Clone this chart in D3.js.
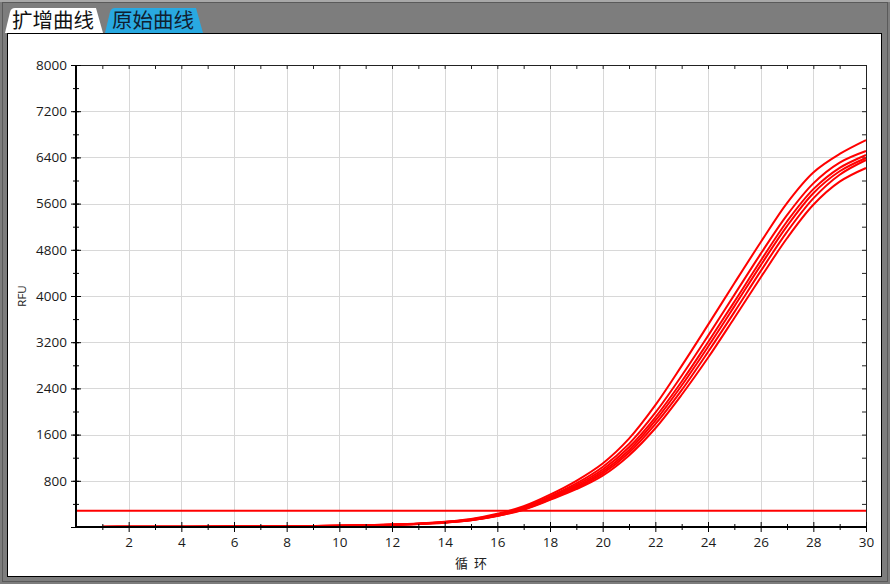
<!DOCTYPE html>
<html lang="zh">
<head>
<meta charset="UTF-8">
<title>扩增曲线</title>
<script src="https://cdn.jsdelivr.net/npm/d3@7/dist/d3.min.js"></script>
<style>
  html, body { margin: 0; padding: 0; background: #7d7d7d; }
  svg { display: block; }
</style>
</head>
<body>
<svg id="chart" width="890" height="584"></svg>
<script>
// cycles 1..30
var cycles = d3.range(1, 31);

// RFU, one array per well
var well1 = [3,4,5,6,7,9,11,14,18,24,32,44,62,92,140,230,360,560,800,1100,1530,2110,2790,3500,4220,4930,5610,6140,6460,6700];
var well2 = [3,4,5,6,7,8,10,13,17,22,30,42,58,86,130,215,340,530,755,1040,1440,1980,2620,3310,4020,4730,5400,5950,6310,6511];
var well3 = [3,4,4,5,6,8,10,13,16,21,29,40,56,83,125,205,325,510,725,995,1380,1900,2520,3200,3900,4610,5290,5850,6220,6442];
var well4 = [2,3,4,5,6,8,10,12,16,21,28,39,55,81,120,200,315,495,700,960,1330,1840,2450,3120,3820,4530,5210,5780,6160,6390];
var well5 = [2,3,4,5,6,7,9,12,15,20,27,38,53,79,118,195,308,480,678,925,1285,1780,2370,3030,3720,4430,5110,5690,6100,6355];
var well6 = [2,3,4,5,6,7,9,11,15,19,26,36,50,75,115,190,300,470,655,890,1240,1710,2290,2930,3620,4320,5000,5580,5980,6217];
var wells = [well1, well2, well3, well4, well5, well6];

var threshold = 280;

var xTicks = [2,4,6,8,10,12,14,16,18,20,22,24,26,28,30];
var yTicks = [800,1600,2400,3200,4000,4800,5600,6400,7200,8000];

var tabNames = ["扩增曲线", "原始曲线"];

var svg = d3.select("#chart");
var W = 890, H = 584;

// window frame
svg.append("rect").attr("x", 0).attr("y", 0).attr("width", W).attr("height", H).attr("fill", "#7d7d7d");
svg.append("rect").attr("x", 0).attr("y", 0).attr("width", W).attr("height", 2).attr("fill", "#a8a8a8");
svg.append("rect").attr("x", 2.5).attr("y", 2.5).attr("width", W - 5).attr("height", H - 5)
  .attr("fill", "none").attr("stroke", "#5a5a5a").attr("stroke-width", 1);

// tabs
var tabs = svg.append("g");
tabs.append("path").attr("d", "M5,33 L10,12 Q11,8 15,8 L96,8 L103,33 Z").attr("fill", "#ffffff");
tabs.append("path").attr("d", "M105,33 L110,12 Q111,8 115,8 L196,8 L203,33 Z").attr("fill", "#29a9e1");
tabs.selectAll("text").data(tabNames).enter().append("text")
  .attr("x", function(d, i) { return i === 0 ? 12 : 112; })
  .attr("y", 28)
  .attr("font-family", "'Noto Sans CJK SC', sans-serif")
  .attr("font-size", 20.5)
  .attr("fill", function(d, i) { return i === 0 ? "#111" : "#102030"; })
  .text(function(d) { return d; });

// white panel
svg.append("rect").attr("x", 7.5).attr("y", 33.5).attr("width", 874).attr("height", 543)
  .attr("fill", "#ffffff").attr("stroke", "#000").attr("stroke-width", 1);

var margin = {left: 76, top: 65, right: 866, bottom: 527};
var x = d3.scaleLinear().domain([0, 30]).range([margin.left, margin.right]);
var y = d3.scaleLinear().domain([0, 8000]).range([margin.bottom, margin.top]);

// grid
var grid = svg.append("g").attr("stroke", "#d8d8d8").attr("stroke-width", 1);
grid.selectAll(".gx").data(xTicks.filter(function(d) { return d < 30; })).enter().append("line")
  .attr("x1", function(d) { return Math.round(x(d)) + 0.5; })
  .attr("x2", function(d) { return Math.round(x(d)) + 0.5; })
  .attr("y1", margin.top).attr("y2", margin.bottom);
grid.selectAll(".gy").data(yTicks.filter(function(d) { return d < 8000; })).enter().append("line")
  .attr("y1", function(d) { return Math.round(y(d)) + 0.5; })
  .attr("y2", function(d) { return Math.round(y(d)) + 0.5; })
  .attr("x1", margin.left).attr("x2", margin.right);

// top and right frame with inward ticks
svg.append("line").attr("x1", margin.left).attr("x2", margin.right).attr("y1", margin.top + 0.5).attr("y2", margin.top + 0.5)
  .attr("stroke", "#222").attr("stroke-width", 1);
svg.append("line").attr("x1", margin.right + 0.5).attr("x2", margin.right + 0.5).attr("y1", margin.top).attr("y2", margin.bottom)
  .attr("stroke", "#222").attr("stroke-width", 1);
svg.append("g").attr("transform", "translate(0," + margin.top + ")")
  .call(d3.axisTop(x).tickValues(d3.range(1, 30)).tickSize(-4).tickFormat(""))
  .call(function(g) { g.select(".domain").remove(); g.selectAll("line").attr("stroke", "#222"); });
svg.append("g").attr("transform", "translate(" + margin.right + ",0)")
  .call(d3.axisRight(y).tickValues(d3.range(400, 8000, 400)).tickSize(-4).tickFormat(""))
  .call(function(g) { g.select(".domain").remove(); g.selectAll("line").attr("stroke", "#222"); });

// threshold
svg.append("line")
  .attr("x1", margin.left).attr("x2", margin.right)
  .attr("y1", y(threshold)).attr("y2", y(threshold))
  .attr("stroke", "#ff0000").attr("stroke-width", 2);

// curves
var line = d3.line()
  .x(function(d, i) { return x(cycles[i]); })
  .y(function(d) { return y(d); })
  .curve(d3.curveCatmullRom.alpha(0.5));
svg.append("g").selectAll("path").data(wells).enter().append("path")
  .attr("d", line)
  .attr("fill", "none")
  .attr("stroke", "#ff0000")
  .attr("stroke-width", 2);

// left axis
var font = "'Open Sans', 'DejaVu Sans', sans-serif";
var yAx = svg.append("g").attr("transform", "translate(" + margin.left + ",0)");
yAx.call(d3.axisLeft(y).tickValues(d3.range(400, 8000, 400)).tickSize(3).tickFormat(""))
  .call(function(g) { g.select(".domain").remove(); g.selectAll("line").attr("x2", 3).attr("x1", -3).attr("stroke", "#000"); });
var yMaj = svg.append("g").attr("transform", "translate(" + margin.left + ",0)");
yMaj.call(d3.axisLeft(y).tickValues([0].concat(yTicks)).tickSize(5).tickPadding(4)
  .tickFormat(function(d) { return d === 0 ? "" : d; }))
  .call(function(g) {
    g.select(".domain").remove();
    g.selectAll("line").attr("x1", 5).attr("stroke", "#000");
    g.selectAll("text").attr("font-family", font).attr("font-size", 13.5).attr("fill", "#1a1a1a");
  });
svg.append("line").attr("x1", margin.left).attr("x2", margin.left).attr("y1", margin.top).attr("y2", margin.bottom + 1)
  .attr("stroke", "#000").attr("stroke-width", 2);

// bottom axis
var xAx = svg.append("g").attr("transform", "translate(0," + margin.bottom + ")");
xAx.call(d3.axisBottom(x).tickValues(d3.range(1, 30, 2)).tickSize(3).tickFormat(""))
  .call(function(g) { g.select(".domain").remove(); g.selectAll("line").attr("y1", -3).attr("stroke", "#000"); });
var xMaj = svg.append("g").attr("transform", "translate(0," + margin.bottom + ")");
xMaj.call(d3.axisBottom(x).tickValues(xTicks).tickSize(5).tickPadding(5))
  .call(function(g) {
    g.select(".domain").remove();
    g.selectAll("line").attr("y1", -5).attr("stroke", "#000");
    g.selectAll("text").attr("font-family", font).attr("font-size", 13.5).attr("fill", "#1a1a1a");
  });
svg.append("line").attr("x1", margin.left - 1).attr("x2", margin.right + 1).attr("y1", margin.bottom).attr("y2", margin.bottom)
  .attr("stroke", "#000").attr("stroke-width", 2);

// axis titles
svg.append("text").attr("transform", "translate(26," + ((margin.top + margin.bottom) / 2) + ") rotate(-90)")
  .attr("text-anchor", "middle").attr("font-family", font).attr("font-size", 11.5).attr("fill", "#222")
  .text("RFU");
svg.append("text").attr("x", (margin.left + margin.right) / 2).attr("y", 568)
  .attr("text-anchor", "middle").attr("font-family", "'Noto Sans CJK SC', sans-serif").attr("font-size", 13)
  .attr("fill", "#222").attr("xml:space", "preserve").text("循  环");
</script>
</body>
</html>
